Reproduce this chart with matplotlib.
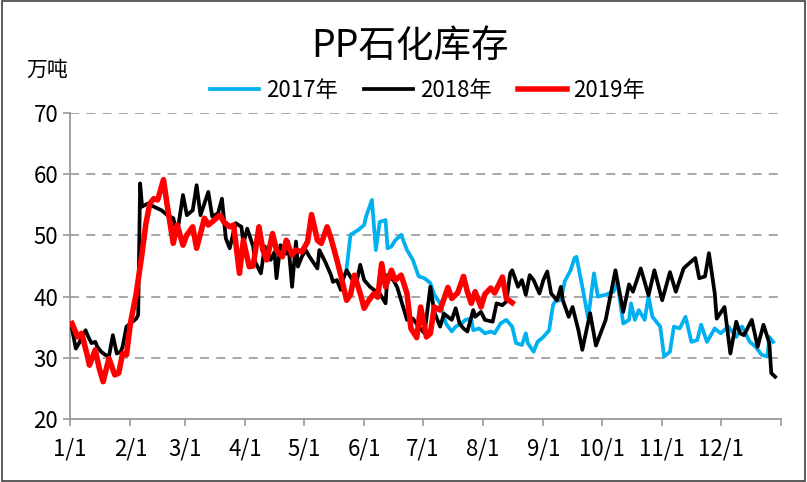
import numpy as np
import matplotlib
matplotlib.use('Agg')
import matplotlib.pyplot as plt

plt.rcParams['font.family'] = ['Noto Sans CJK SC', 'DejaVu Sans']

# day of year (0 = 1/1) and inventory (万吨)
days_2017 = [142, 144, 145, 148, 151, 152, 155, 157, 159, 162, 163, 165, 167, 170, 173, 176,
             179, 182, 185, 187, 190, 193, 196, 198, 201, 203, 206, 207, 210, 213, 216, 218,
             221, 224, 227, 229, 232, 234, 235, 238, 240, 243, 246, 247, 248, 249, 252, 254,
             257, 259, 260, 263, 266, 269, 271, 275, 279, 281, 284, 287, 288, 290, 292, 295,
             297, 299, 303, 305, 308, 310, 313, 316, 319, 322, 324, 327, 331, 334, 338, 342,
             345, 349, 352, 355, 358, 359, 361]
vals_2017 = [44.6, 50.1, 50.3, 50.9, 51.7, 53.1, 55.8, 47.6, 52.2, 52.5, 47.9, 48.2, 49.2, 50.1, 47.6, 46.0,
             43.3, 43.0, 42.2, 40.3, 38.9, 35.6, 34.3, 35.1, 35.6, 36.2, 36.4, 34.5, 34.8, 34.0, 34.3, 34.0,
             35.6, 36.2, 35.1, 32.4, 32.1, 34.0, 32.4, 31.0, 32.6, 33.4, 34.5, 36.7, 38.6, 39.2, 39.5, 42.5,
             44.3, 46.3, 46.5, 41.6, 36.5, 43.8, 40.0, 40.3, 40.8, 42.4, 35.6, 36.2, 38.9, 36.2, 37.8, 36.2,
             40.0, 36.7, 35.1, 30.2, 31.0, 35.1, 34.8, 36.7, 32.6, 32.9, 35.4, 32.6, 34.8, 34.0, 35.1, 33.4,
             35.1, 32.6, 31.8, 30.5, 30.2, 33.4, 32.6]

days_2018 = [1, 3, 5, 8, 9, 11, 13, 14, 16, 18, 20, 22, 24, 26, 27, 29, 31, 34, 35, 36, 37, 40,
             43, 47, 50, 53, 55, 58, 60, 63, 65, 67, 71, 73, 76, 78, 80, 82, 85, 88, 89, 91, 94,
             95, 98, 100, 103, 105, 106, 108, 111, 112, 114, 116, 117, 119, 121, 123, 127, 128,
             131, 134, 135, 137, 139, 140, 142, 145, 147, 149, 151, 154, 156, 159, 162, 163, 166,
             168, 171, 173, 176, 179, 182, 185, 187, 190, 192, 196, 198, 200, 202, 204, 207, 208,
             211, 213, 217, 219, 222, 224, 226, 227, 230, 232, 234, 236, 238, 241, 243, 245, 247,
             250, 252, 253, 256, 258, 261, 263, 267, 270, 275, 280, 284, 287, 289, 293, 297, 300,
             304, 308, 311, 315, 317, 321, 323, 326, 328, 331, 332, 336, 339, 342, 344, 346, 350,
             353, 356, 359, 360, 362]
vals_2018 = [34.8, 31.5, 32.6, 34.5, 33.7, 32.4, 32.6, 31.8, 31.0, 30.5, 30.2, 33.7, 30.7, 31.0, 31.8, 35.1,
             35.6, 36.4, 37.0, 58.5, 54.7, 55.2, 54.7, 54.1, 53.3, 52.8, 50.3, 56.6, 53.3, 54.1, 58.2, 53.3,
             57.1, 53.1, 53.6, 56.0, 49.5, 47.9, 52.0, 51.4, 48.7, 51.1, 48.2, 45.7, 43.8, 48.2, 46.0, 47.3,
             43.0, 48.4, 47.0, 49.0, 41.6, 49.0, 44.9, 46.5, 47.6, 46.5, 44.6, 47.6, 45.7, 43.5, 42.4, 42.7,
             41.1, 42.7, 44.3, 42.7, 42.2, 45.2, 42.7, 41.6, 41.1, 40.5, 38.9, 43.5, 42.7, 41.5, 38.3, 36.2,
             36.4, 35.1, 34.0, 41.6, 37.5, 35.1, 37.2, 36.2, 38.1, 35.6, 34.8, 34.3, 37.8, 36.7, 37.5, 36.2,
             35.9, 38.9, 38.6, 39.2, 43.8, 44.3, 41.6, 42.7, 40.3, 43.5, 42.7, 40.5, 42.7, 44.1, 40.5, 39.4,
             41.6, 39.4, 36.7, 38.3, 34.5, 31.3, 37.3, 32.0, 36.2, 44.3, 37.5, 42.0, 40.8, 44.6, 40.2, 44.3,
             39.4, 44.0, 40.8, 44.6, 45.2, 46.3, 43.0, 43.3, 47.1, 40.5, 36.4, 38.3, 30.7, 35.9, 34.0, 33.7,
             36.2, 31.8, 35.4, 32.4, 27.5, 26.9]

days_2019 = [1, 4, 6, 9, 10, 13, 15, 17, 20, 23, 25, 27, 29, 31, 34, 37, 39, 41, 43, 45, 48, 50,
             53, 55, 58, 60, 63, 65, 69, 71, 77, 79, 82, 84, 87, 89, 92, 94, 97, 99, 101, 104, 106,
             109, 111, 114, 116, 119, 122, 124, 127, 129, 132, 134, 137, 139, 142, 144, 146, 149,
             151, 153, 156, 158, 160, 162, 165, 167, 170, 173, 175, 178, 180, 183, 185, 187, 190,
             194, 196, 199, 202, 204, 206, 208, 211, 213, 216, 218, 222, 224, 227]
vals_2019 = [35.6, 33.4, 34.0, 30.2, 28.8, 31.3, 28.3, 26.1, 29.9, 27.2, 27.5, 30.7, 30.5, 35.6, 40.5, 47.1,
             52.0, 55.2, 56.0, 55.8, 59.1, 54.7, 48.7, 51.7, 48.4, 50.1, 51.4, 47.9, 52.8, 51.7, 53.3, 52.2,
             51.4, 51.7, 43.8, 49.2, 44.9, 45.0, 51.4, 47.6, 46.0, 50.3, 47.6, 46.5, 49.2, 46.8, 47.6, 47.3,
             49.0, 53.4, 49.2, 48.7, 51.4, 49.5, 46.0, 43.5, 39.4, 40.3, 43.5, 40.5, 38.1, 39.2, 40.5, 39.9,
             45.4, 41.6, 44.3, 42.7, 43.5, 40.5, 34.8, 33.3, 38.3, 33.4, 34.0, 38.3, 37.8, 41.5, 39.7, 40.6,
             43.3, 40.8, 38.9, 40.8, 38.3, 40.4, 41.4, 40.6, 43.2, 39.7, 39.0]

month_ticks = [0, 31, 59, 90, 120, 151, 181, 212, 243, 273, 304, 334, 365]
month_labels = ['1/1', '2/1', '3/1', '4/1', '5/1', '6/1', '7/1', '8/1', '9/1', '10/1', '11/1', '12/1', '']

fig = plt.figure(figsize=(8.07, 4.82), dpi=100)
fig.patches.append(plt.Rectangle((0.002, 0.003), 0.995, 0.994, transform=fig.transFigure,
                                 fill=False, edgecolor='#404040', linewidth=1.2))
ax = fig.add_axes([70 / 807, 63 / 482, 711 / 807, 306 / 482])

ax.plot(days_2017, vals_2017, color='#00B0F0', linewidth=2.7, label='2017年', zorder=3)
ax.plot(days_2018, vals_2018, color='black', linewidth=2.7, label='2018年', zorder=4)
ax.plot(days_2019, vals_2019, color='#FF0000', linewidth=4.0, label='2019年', zorder=5)

ax.set_xlim(0, 365)
ax.set_ylim(20, 70)
ax.set_yticks([20, 30, 40, 50, 60, 70])
ax.set_xticks(month_ticks)
ax.set_xticklabels(month_labels)
for y in [30, 40, 50, 60, 70]:
    ax.axhline(y, color='#A0A0A0', linestyle=(0, (5, 4)), linewidth=1.3, zorder=1)

for s in ['top', 'right']:
    ax.spines[s].set_visible(False)
for s in ['left', 'bottom']:
    ax.spines[s].set_color('#999999')
    ax.spines[s].set_linewidth(1.3)
ax.tick_params(axis='both', direction='out', length=5, width=1.2, color='#999999',
               labelsize=16, labelcolor='black')
ax.tick_params(axis='x', pad=8)

fig.text(0.508, 0.905, 'PP石化库存', ha='center', va='center', fontsize=27)
fig.text(0.033, 0.855, '万吨', ha='left', va='center', fontsize=15)
ax.legend(loc='center', bbox_to_anchor=(0.503, 1.075), ncol=3, frameon=False, fontsize=16,
          handlelength=2.2, handletextpad=0.3, columnspacing=1.2)

fig.savefig('out.png', dpi=100)
